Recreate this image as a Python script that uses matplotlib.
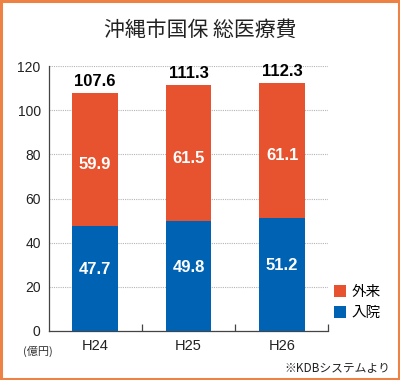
import matplotlib
matplotlib.use('Agg')
import matplotlib.pyplot as plt
from matplotlib.patches import Rectangle

plt.rcParams['font.family'] = ['Noto Sans CJK JP', 'DejaVu Sans']

# データ（億円）
years = ['H24', 'H25', 'H26']
nyuin = [47.7, 49.8, 51.2]     # 入院
gairai = [59.9, 61.5, 61.1]    # 外来
totals = [107.6, 111.3, 112.3]
yticks = [0, 20, 40, 60, 80, 100, 120]

c_out = '#E8532F'
c_in = '#0062B2'
num_font = 'Liberation Sans'

fig = plt.figure(figsize=(4, 3.8), dpi=100)
ax = fig.add_axes([0.1225, 0.129, 0.6975, 0.697])

x = range(len(years))
ax.bar(x, nyuin, width=0.49, color=c_in, label='入院', zorder=3)
ax.bar(x, gairai, width=0.49, bottom=nyuin, color=c_out, label='外来', zorder=3)

for i in x:
    ax.text(i, nyuin[i] * 0.58, f'{nyuin[i]:.1f}', ha='center', va='center',
            color='white', fontsize=12, fontweight='bold', family=num_font)
    ax.text(i, nyuin[i] + gairai[i] * 0.46, f'{gairai[i]:.1f}', ha='center',
            va='center', color='white', fontsize=12, fontweight='bold',
            family=num_font)
    ax.text(i, totals[i] + 2.0, f'{totals[i]:.1f}', ha='center', va='bottom',
            color='black', fontsize=12, fontweight='bold', family=num_font)

ax.set_xlim(-0.49, 2.49)
ax.set_ylim(0, 120)
ax.set_yticks(yticks)
ax.set_xticks(list(x))
ax.set_xticklabels(years, fontsize=10.5, family=num_font)
for lab in ax.get_yticklabels():
    lab.set_family(num_font)
    lab.set_fontsize(10)
ax.tick_params(axis='both', which='major', length=0, colors='#222222', pad=6)
ax.set_xticks([0.5, 1.5, 2.49], minor=True)
ax.tick_params(axis='x', which='minor', direction='in', length=5,
               width=0.9, color='#444444')
ax.yaxis.grid(True, linestyle=(0, (1, 1)), color='#b5b5b5', linewidth=0.8,
              zorder=0)
for s in ['top', 'right']:
    ax.spines[s].set_visible(False)
for s in ['left', 'bottom']:
    ax.spines[s].set_color('#444444')
    ax.spines[s].set_linewidth(0.9)

fig.text(0.5, 0.921, '沖縄市国保 総医療費', ha='center', va='center', fontsize=15,
         color='#222222')
fig.text(0.095, 0.076, '(億円)', ha='center', va='center', fontsize=8,
         color='#333333')
fig.text(0.975, 0.032, '※KDBシステムより', ha='right', va='center', fontsize=8.5,
         color='#222222')

handles, labels = ax.get_legend_handles_labels()
fig.legend(handles[::-1], labels[::-1], loc='center left',
           bbox_to_anchor=(0.835, 0.204), frameon=False, fontsize=10.5,
           handlelength=0.85, handleheight=0.85, handletextpad=0.35,
           labelspacing=0.45, borderpad=0, borderaxespad=0)

fig.patches.append(Rectangle((0.003, 0.003), 0.994, 0.994, transform=fig.transFigure,
                             fill=False, edgecolor='#EE8244', linewidth=2.2))

fig.savefig('out.png', dpi=100)
